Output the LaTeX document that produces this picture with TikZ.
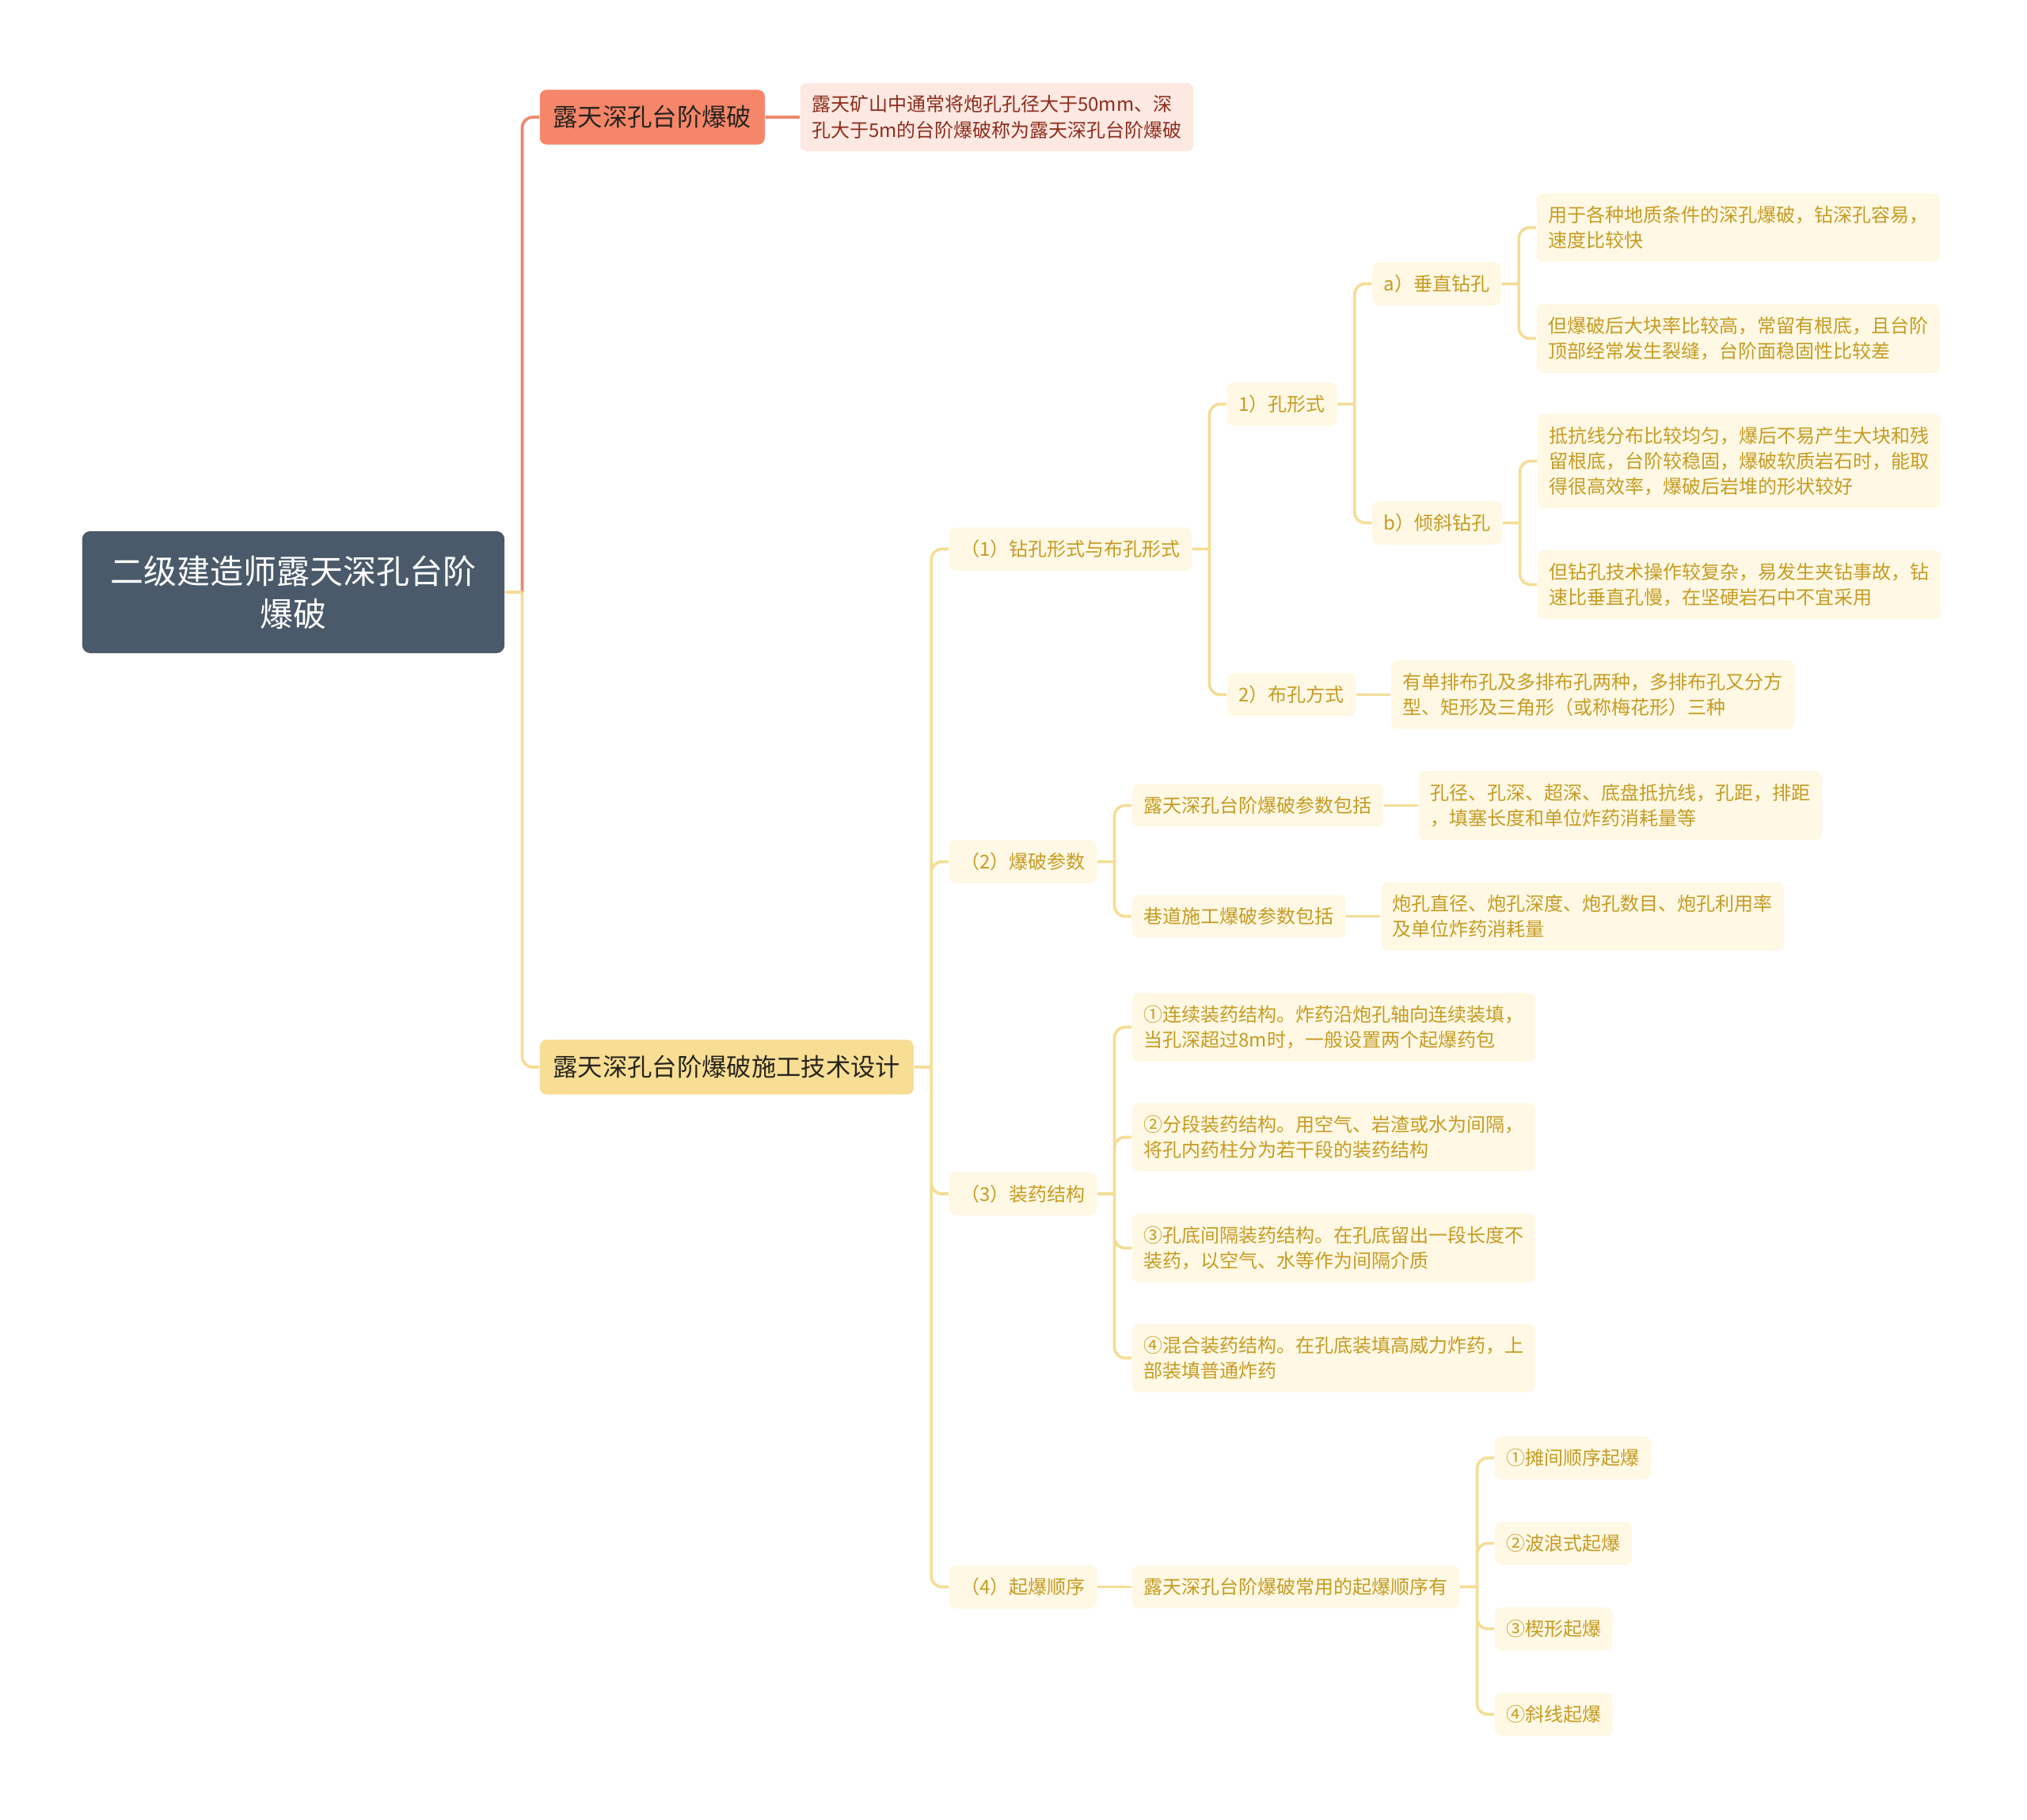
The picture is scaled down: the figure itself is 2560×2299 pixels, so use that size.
\documentclass[tikz,border=0pt]{standalone}
\usepackage{fontspec}
\setmainfont{Noto Sans CJK SC}
\usetikzlibrary{positioning}
\definecolor{slate}{RGB}{74,90,106}
\definecolor{salmon}{RGB}{246,134,106}
\definecolor{salmonline}{RGB}{238,136,108}
\definecolor{blush}{RGB}{253,232,226}
\definecolor{brick}{RGB}{140,45,28}
\definecolor{wheat}{RGB}{247,222,148}
\definecolor{wheatline}{RGB}{244,221,150}
\definecolor{cream}{RGB}{254,248,228}
\definecolor{ochre}{RGB}{198,156,36}
\definecolor{ink}{RGB}{40,36,30}

\begin{document}
\begin{tikzpicture}[x=0.3pt,y=-0.3pt,node distance=13pt,
  rootbox/.style={fill=slate,text=white,rounded corners=3pt,align=center,
    font=\fontsize{12.6}{16.2}\selectfont,minimum width=160pt,minimum height=46.2pt},
  topic/.style={rounded corners=2.5pt,text=ink,inner xsep=5pt,inner ysep=6pt,
    font=\fontsize{9.4}{12}\selectfont},
  leaf/.style={fill=cream,text=ochre,rounded corners=2.5pt,inner xsep=4.4pt,inner ysep=4.75pt,
    align=left,font=\fontsize{7.2}{9.7}\selectfont},
  dy/.style={yshift={-0.3pt*(#1)}},
  link/.style={draw=wheatline,line width=1.1pt,rounded corners=4pt}]
\useasboundingbox (0,0) rectangle (2560,2299);

\node[rootbox] (root) at (370.5,748) {二级建造师露天深孔台阶\\爆破};

\node[topic,fill=salmon,right=of root,dy=-600] (open) {露天深孔台阶爆破};
\node[leaf,fill=blush,text=brick,right=of open] (openDef) {露天矿山中通常将炮孔孔径大于50mm、深\\孔大于5m的台阶爆破称为露天深孔台阶爆破};
\node[topic,fill=wheat,right=of root,dy=600] (design) {露天深孔台阶爆破施工技术设计};

\node[leaf,right=of design,dy=-654.5] (drill) {（1）钻孔形式与布孔形式};
\node[leaf,right=of design,dy=-259.5] (param) {（2）爆破参数};
\node[leaf,right=of design,dy=160] (charge) {（3）装药结构};
\node[leaf,right=of design,dy=656.5] (order) {（4）起爆顺序};

\node[leaf,right=of drill,dy=-183] (holeForm) {1）孔形式};
\node[leaf,right=of drill,dy=184] (holeLay) {2）布孔方式};
\node[leaf,right=of holeForm,dy=-152] (vert) {a）垂直钻孔};
\node[leaf,right=of holeForm,dy=150] (incl) {b）倾斜钻孔};
\node[leaf,right=of vert,dy=-71] (vertPro) {用于各种地质条件的深孔爆破，钻深孔容易，\\速度比较快};
\node[leaf,right=of vert,dy=69] (vertCon) {但爆破后大块率比较高，常留有根底，且台阶\\顶部经常发生裂缝，台阶面稳固性比较差};
\node[leaf,right=of incl,dy=-78] (inclPro) {抵抗线分布比较均匀，爆后不易产生大块和残\\留根底，台阶较稳固，爆破软质岩石时，能取\\得很高效率，爆破后岩堆的形状较好};
\node[leaf,right=of incl,dy=78] (inclCon) {但钻孔技术操作较复杂，易发生夹钻事故，钻\\速比垂直孔慢，在坚硬岩石中不宜采用};
\node[leaf,right=of holeLay] (layTxt) {有单排布孔及多排布孔两种，多排布孔又分方\\型、矩形及三角形（或称梅花形）三种};

\node[leaf,right=of param,dy=-71] (benchPar) {露天深孔台阶爆破参数包括};
\node[leaf,right=of param,dy=69] (tunnelPar) {巷道施工爆破参数包括};
\node[leaf,right=of benchPar] (benchTxt) {孔径、孔深、超深、底盘抵抗线，孔距，排距\\，填塞长度和单位炸药消耗量等};
\node[leaf,right=of tunnelPar] (tunnelTxt) {炮孔直径、炮孔深度、炮孔数目、炮孔利用率\\及单位炸药消耗量};

\node[leaf,right=of charge,dy=-210.5] (chA) {①连续装药结构。炸药沿炮孔轴向连续装填，\\当孔深超过8m时，一般设置两个起爆药包};
\node[leaf,right=of charge,dy=-71.5] (chB) {②分段装药结构。用空气、岩渣或水为间隔，\\将孔内药柱分为若干段的装药结构};
\node[leaf,right=of charge,dy=68.5] (chC) {③孔底间隔装药结构。在孔底留出一段长度不\\装药，以空气、水等作为间隔介质};
\node[leaf,right=of charge,dy=207.5] (chD) {④混合装药结构。在孔底装填高威力炸药，上\\部装填普通炸药};

\node[leaf,right=of order] (orderTxt) {露天深孔台阶爆破常用的起爆顺序有};
\node[leaf,right=of orderTxt,dy=-163] (ordA) {①摊间顺序起爆};
\node[leaf,right=of orderTxt,dy=-55] (ordB) {②波浪式起爆};
\node[leaf,right=of orderTxt,dy=53] (ordC) {③楔形起爆};
\node[leaf,right=of orderTxt,dy=161] (ordD) {④斜线起爆};

\coordinate (jRoot) at ([xshift=6.5pt]root.east);
\coordinate (jDesign) at ([xshift=6.5pt]design.east);
\coordinate (jDrill) at ([xshift=6.5pt]drill.east);
\coordinate (jForm) at ([xshift=6.5pt]holeForm.east);
\coordinate (jVert) at ([xshift=6.5pt]vert.east);
\coordinate (jIncl) at ([xshift=6.5pt]incl.east);
\coordinate (jParam) at ([xshift=6.5pt]param.east);
\coordinate (jCharge) at ([xshift=6.5pt]charge.east);
\coordinate (jOrder) at ([xshift=6.5pt]orderTxt.east);

\draw[link,draw=salmonline] (jRoot) |- (open) (open) -- (openDef);
\draw[link] (root) -- (jRoot) (jRoot) |- (design);
\draw[link] (design) -- (jDesign) (jDesign) |- (drill) (jDesign) |- (param) (jDesign) |- (charge) (jDesign) |- (order);
\draw[link] (drill) -- (jDrill) (jDrill) |- (holeForm) (jDrill) |- (holeLay);
\draw[link] (holeForm) -- (jForm) (jForm) |- (vert) (jForm) |- (incl);
\draw[link] (vert) -- (jVert) (jVert) |- (vertPro) (jVert) |- (vertCon);
\draw[link] (incl) -- (jIncl) (jIncl) |- (inclPro) (jIncl) |- (inclCon);
\draw[link] (holeLay) -- (layTxt);
\draw[link] (param) -- (jParam) (jParam) |- (benchPar) (jParam) |- (tunnelPar);
\draw[link] (benchPar) -- (benchTxt);
\draw[link] (tunnelPar) -- (tunnelTxt);
\draw[link] (charge) -- (jCharge) (jCharge) |- (chA) (jCharge) |- (chB) (jCharge) |- (chC) (jCharge) |- (chD);
\draw[link] (order) -- (orderTxt);
\draw[link] (orderTxt) -- (jOrder) (jOrder) |- (ordA) (jOrder) |- (ordB) (jOrder) |- (ordC) (jOrder) |- (ordD);
\end{tikzpicture}
\end{document}
